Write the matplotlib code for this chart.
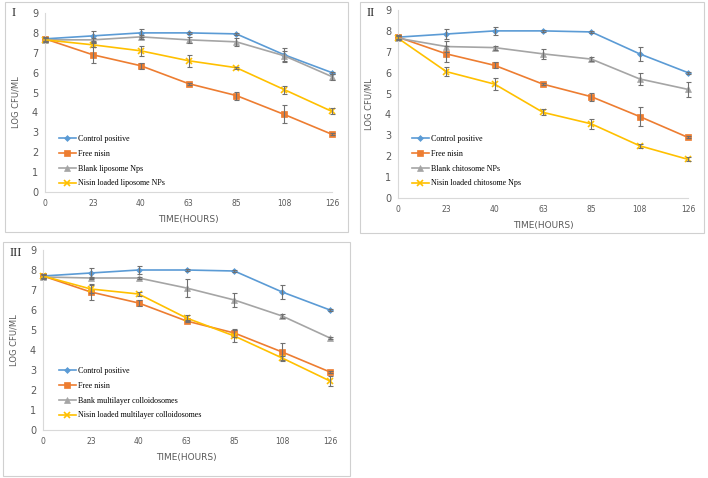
import matplotlib
matplotlib.use("Agg")
import matplotlib.pyplot as plt
from matplotlib.patches import Rectangle

times = ["0", "23", "40", "63", "85", "108", "126"]

control = [7.7, 7.85, 8.0, 8.0, 7.95, 6.9, 6.0]
control_err = [0.1, 0.25, 0.2, 0.05, 0.05, 0.35, 0.05]
free_nisin = [7.7, 6.9, 6.35, 5.45, 4.85, 3.9, 2.9]
free_nisin_err = [0.1, 0.4, 0.15, 0.05, 0.2, 0.45, 0.05]

blank_lipo = [7.65, 7.65, 7.8, 7.65, 7.55, 6.85, 5.8]
blank_lipo_err = [0.1, 0.1, 0.1, 0.15, 0.2, 0.25, 0.15]
nisin_lipo = [7.65, 7.4, 7.1, 6.6, 6.25, 5.15, 4.05]
nisin_lipo_err = [0.1, 0.1, 0.25, 0.3, 0.05, 0.2, 0.15]

blank_chito = [7.65, 7.25, 7.2, 6.9, 6.65, 5.7, 5.2]
blank_chito_err = [0.1, 0.25, 0.1, 0.25, 0.1, 0.3, 0.35]
nisin_chito = [7.65, 6.05, 5.45, 4.1, 3.55, 2.5, 1.85]
nisin_chito_err = [0.1, 0.2, 0.3, 0.15, 0.25, 0.1, 0.1]

blank_multi = [7.65, 7.6, 7.6, 7.1, 6.5, 5.7, 4.6]
blank_multi_err = [0.1, 0.05, 0.05, 0.45, 0.35, 0.1, 0.05]
nisin_multi = [7.7, 7.05, 6.8, 5.6, 4.7, 3.6, 2.45]
nisin_multi_err = [0.1, 0.2, 0.1, 0.15, 0.3, 0.1, 0.25]

panels = [
    ("I", "Blank liposome Nps", blank_lipo, blank_lipo_err,
     "Nisin loaded liposome NPs", nisin_lipo, nisin_lipo_err),
    ("II", "Blank chitosome NPs", blank_chito, blank_chito_err,
     "Nisin loaded chitosome Nps", nisin_chito, nisin_chito_err),
    ("III", "Bank multilayer colloidosomes", blank_multi, blank_multi_err,
     "Nisin loaded multilayer colloidosomes", nisin_multi, nisin_multi_err),
]

W, H = 708, 478
fig = plt.figure(figsize=(W / 100, H / 100), dpi=100)
fig.patch.set_facecolor("white")

# (axes left, right, top, bottom) px; (border l, r, t, b) px; legend lower-left anchor px
layout = [
    ((45, 332, 13, 192), (5, 348, 2, 232), (57, 189)),
    ((398, 688, 10, 198), (360, 704, 2, 233), (410, 189)),
    ((43, 330, 250, 430), (3, 350, 242, 476), (57, 421)),
]

colors = ["#5B9BD5", "#ED7D31", "#A5A5A5", "#FFC000"]
markers = ["D", "s", "^", "x"]
msizes = [3, 4, 4, 5]

x = list(range(len(times)))

for (label, bname, bvals, berr, nname, nvals, nerr), (ax_px, bd_px, leg_px) in zip(panels, layout):
    l, r, t, b = bd_px
    fig.patches.append(Rectangle((l / W, 1 - b / H), (r - l) / W, (b - t) / H,
                                 transform=fig.transFigure, fill=False,
                                 edgecolor="#d0d0d0", linewidth=0.8))
    al, ar, at, ab = ax_px
    ax = fig.add_axes([al / W, 1 - ab / H, (ar - al) / W, (ab - at) / H])
    series = [("Control positive", control, control_err),
              ("Free nisin", free_nisin, free_nisin_err),
              (bname, bvals, berr),
              (nname, nvals, nerr)]
    for i, (name, vals, err) in enumerate(series):
        ax.errorbar(x, vals, yerr=err, fmt="none", ecolor="#707070",
                    elinewidth=0.8, capsize=1.8, capthick=0.8, clip_on=False,
                    zorder=3)
        ax.plot(x, vals, color=colors[i], marker=markers[i],
                markersize=msizes[i], linewidth=1.2, label=name, clip_on=False,
                markeredgewidth=1.2 if markers[i] == "x" else 0.5, zorder=2)
    ax.set_xlim(0, 6)
    ax.set_ylim(0, 9)
    ax.set_xticks(x)
    ax.set_xticklabels(times, fontsize=5.5, color="#595959")
    ax.set_yticks(range(10))
    ax.set_yticklabels([str(v) for v in range(10)], fontsize=7, color="#595959")
    ax.tick_params(length=0, pad=5)
    for s in ["top", "right"]:
        ax.spines[s].set_visible(False)
    for s in ["left", "bottom"]:
        ax.spines[s].set_color("#d9d9d9")
        ax.spines[s].set_linewidth(0.8)
    ax.set_xlabel("TIME(HOURS)", fontsize=6.5, color="#595959", labelpad=5)
    ax.set_ylabel("LOG CFU/ML", fontsize=6, color="#595959", labelpad=8)
    lx, ly = leg_px
    ax.legend(loc="lower left", bbox_to_anchor=(lx / W, 1 - ly / H),
              bbox_transform=fig.transFigure, frameon=False,
              prop={"family": "Liberation Serif", "size": 5.8},
              handlelength=2.2, handletextpad=0.15, labelspacing=0.85,
              borderpad=0.2, borderaxespad=0)
    fig.text((l + 7) / W, 1 - (t + 11) / H, label, fontsize=9,
             family="Liberation Serif", color="#222222", va="center")

fig.savefig("out.png", dpi=100, facecolor="white")
